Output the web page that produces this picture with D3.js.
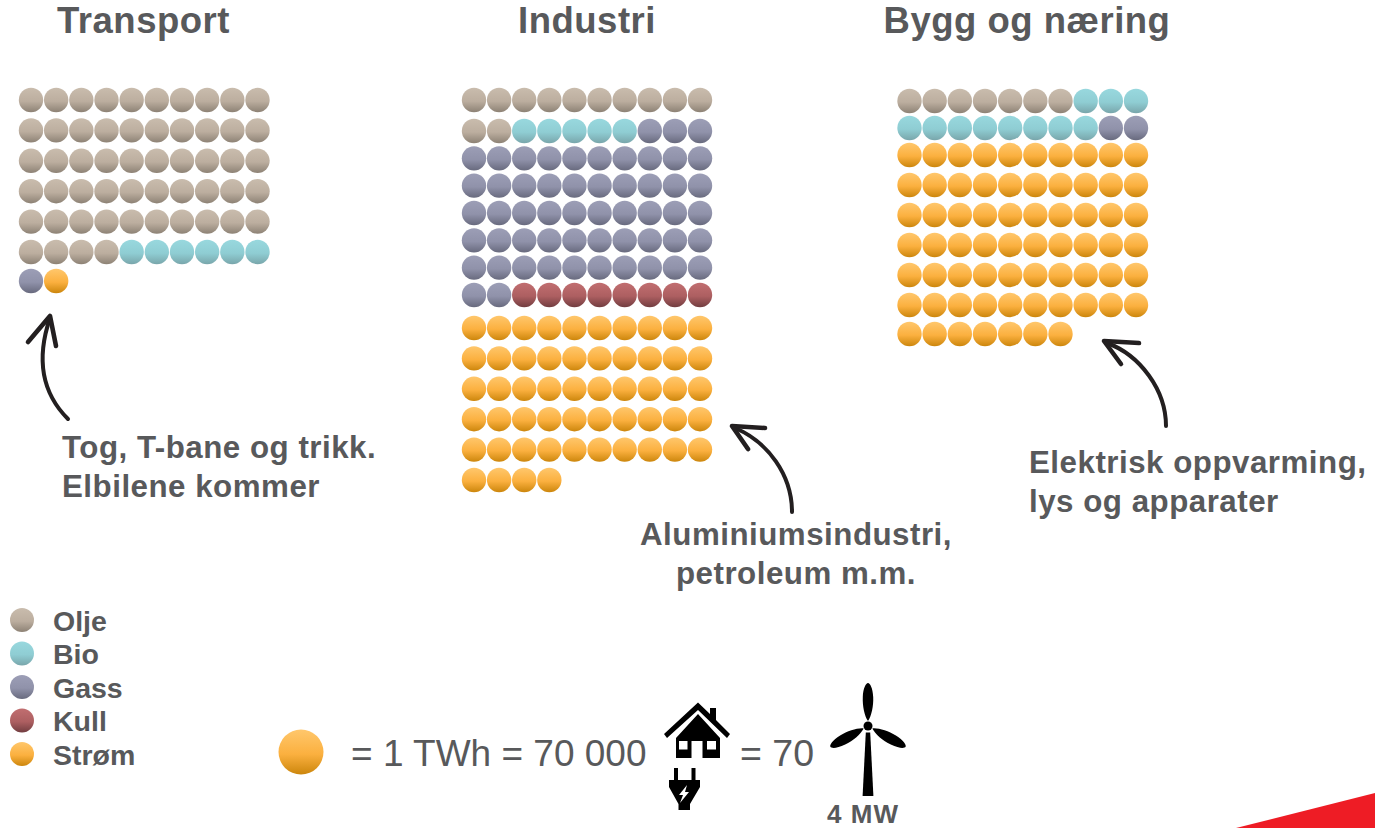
<!DOCTYPE html>
<html><head><meta charset="utf-8">
<style>html,body{margin:0;padding:0;background:#fff}svg{display:block}text{font-family:"Liberation Sans",Arial,sans-serif;fill:#58595b}</style>
<script src="https://cdnjs.cloudflare.com/ajax/libs/d3/7.8.5/d3.min.js"></script>
</head><body><div id="c"></div>
<script>
const sources = ["Olje","Bio","Gass","Kull","Strøm"];
const topColors = ["#c9bcad","#98d8de","#9c9eb6","#c16e70","#ffc76c"];
const midColors = ["#bcae9f","#8fcdd3","#9092aa","#ad5f61","#fbb03f"];
const botColors = ["#8d8275","#79a6ab","#686a7e","#723d40","#cc860c"];
const sectors = ["Transport","Industri","Bygg og næring"];
const transportTWh = [54,6,1,0,1];
const industriTWh = [12,5,55,8,54];
const byggTWh = [7,11,2,0,67];
const notes = [["Tog, T-bane og trikk.","Elbilene kommer"],["Aluminiumsindustri,","petroleum m.m."],["Elektrisk oppvarming,","lys og apparater"]];

const W=1375,H=828;
const svg=d3.select("#c").append("svg").attr("width",W).attr("height",H);
const defs=svg.append("defs");
sources.forEach((s,i)=>{
  const g=defs.append("linearGradient").attr("id","g"+i).attr("x1",0).attr("y1",0).attr("x2",0).attr("y2",1);
  g.append("stop").attr("offset","0%").attr("stop-color",topColors[i]);
  g.append("stop").attr("offset","55%").attr("stop-color",midColors[i]);
  g.append("stop").attr("offset","100%").attr("stop-color",botColors[i]);
});

// layout of each waffle: column scale and piecewise row scale
const layouts=[
 {x:d3.scaleLinear().domain([0,9]).range([31,257.5]),y:d3.scaleLinear().domain([0,5,6]).range([100,252,281])},
 {x:d3.scaleLinear().domain([0,9]).range([474,700]),y:d3.scaleLinear().domain([0,1,7,8,13]).range([100,131,295,328,480])},
 {x:d3.scaleLinear().domain([0,9]).range([909.5,1136]),y:d3.scaleLinear().domain([0,1,2,7,8]).range([101,128,155,305,334])}
];
[transportTWh,industriTWh,byggTWh].forEach((vals,si)=>{
  const cells=[];
  vals.forEach((n,k)=>{for(let j=0;j<n;j++)cells.push(k)});
  const l=layouts[si];
  svg.append("g").selectAll("circle").data(cells).join("circle")
    .attr("cx",(d,i)=>l.x(i%10)).attr("cy",(d,i)=>l.y(Math.floor(i/10)))
    .attr("r",12.2).attr("fill",d=>`url(#g${d})`);
});

// titles
const titleX=[143.5,587,1027];
svg.append("g").selectAll("text").data(sectors).join("text")
  .attr("x",(d,i)=>titleX[i]).attr("y",33).attr("text-anchor","middle")
  .attr("font-size",36.5).attr("font-weight","bold").attr("letter-spacing",0.5).text(d=>d);

// notes
const notePos=[{x:62,y:458,a:"start"},{x:796,y:545,a:"middle"},{x:1029,y:473,a:"start"}];
notes.forEach((lines,i)=>{
  const p=notePos[i];
  lines.forEach((t,j)=>svg.append("text").attr("x",p.x).attr("y",p.y+j*38.5)
    .attr("text-anchor",p.a).attr("font-size",31.3).attr("font-weight","bold").attr("letter-spacing",0.5).text(t));
});

// hand-drawn arrows
const arrows=[
 {shaft:"M68,419C46,397 34,365 50,318",head:"M28,342L50,316L56,346"},
 {shaft:"M792,512C792,475 768,442 735,428",head:"M765,428L732,426L748,449"},
 {shaft:"M1166,426C1166,390 1140,355 1107,343",head:"M1139,343L1104,341L1121,364"}
];
arrows.forEach(a=>{
  svg.append("path").attr("d",a.shaft).attr("fill","none").attr("stroke","#231f20").attr("stroke-width",4).attr("stroke-linecap","round");
  svg.append("path").attr("d",a.head).attr("fill","none").attr("stroke","#231f20").attr("stroke-width",4.6).attr("stroke-linecap","round").attr("stroke-linejoin","round");
});

// legend
const legY=d3.scalePoint().domain(sources).range([620,754]);
const lg=svg.append("g").selectAll("g").data(sources).join("g");
lg.append("circle").attr("cx",22).attr("cy",d=>legY(d)).attr("r",12).attr("fill",(d,i)=>`url(#g${i})`);
lg.append("text").attr("x",53).attr("y",d=>legY(d)+10.5).attr("font-size",28.5).attr("font-weight","bold").text(d=>d);

// equation
svg.append("circle").attr("cx",301).attr("cy",752).attr("r",22.5).attr("fill","url(#g4)");
svg.append("text").attr("x",351).attr("y",766).attr("font-size",37).text("= 1 TWh = 70 000");
svg.append("text").attr("x",740).attr("y",766).attr("font-size",37.5).text("= 70");
svg.append("text").attr("x",863).attr("y",823).attr("text-anchor","middle").attr("font-size",26).attr("font-weight","bold").attr("letter-spacing",1).text("4 MW");

// house icon
const house=svg.append("g");
house.append("path").attr("fill","#000").attr("fill-rule","evenodd")
 .attr("d","M676,738L698,714L720,738V758H702.5V741H691.5V758H676ZM679,741V749.5H687.5V741ZM707,741V749.5H716V741Z");
house.append("path").attr("fill","#000")
 .attr("d","M698,702.5L710,714V708H716V720L730,734L727,738L698,710L667,738L664,734Z");

// plug icon
const plug=svg.append("g");
plug.append("path").attr("fill","#000").attr("d","M674,768H678V780H691.5V768H695.5V780H700V787L690,804V810H678.5V804L669,787V780H674Z");
plug.append("path").attr("fill","#fff").attr("d","M687,785L679,795H683L680,803L689,792H685Z");

// turbine icon
const t=svg.append("g").attr("transform","translate(868,726)");
t.append("path").attr("fill","#000").attr("d","M-2.2,6.5L2.2,6.5L5.4,70L-5.4,70Z");
const blade="M0,-5C3.5,-10 5.6,-20 5.2,-29C4.8,-38 2,-43 0,-43C-2,-43 -4.8,-38 -5.2,-29C-5.6,-20 -3.5,-10 0,-5Z";
[0,119,241].forEach(a=>t.append("path").attr("fill","#000").attr("d",blade).attr("transform",`rotate(${a})`));
t.append("circle").attr("r",4.5).attr("fill","#000");

// red corner
svg.append("path").attr("fill","#ee1c25").attr("d",`M1236,${H}L${W},793V${H}Z`);
</script></body></html>
